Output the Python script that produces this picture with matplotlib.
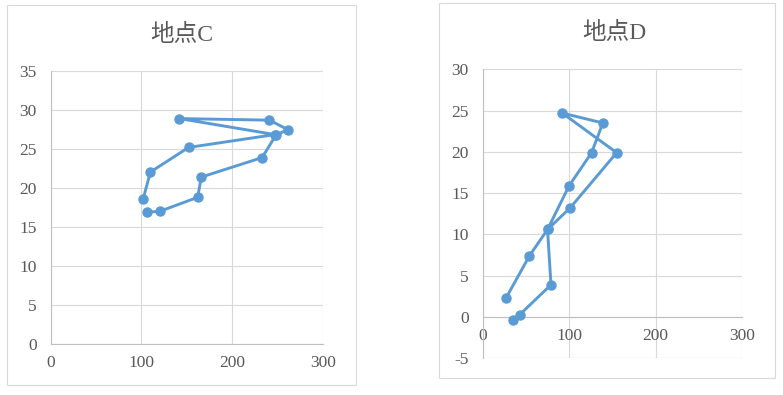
import matplotlib
matplotlib.use("Agg")
import matplotlib.pyplot as plt
from matplotlib.patches import Rectangle

# 地点C
c_x = [102, 110, 152, 247, 142, 241, 261, 248, 233, 166, 162, 120, 106]
c_y = [18.6, 22.05, 25.2, 26.85, 28.9, 28.7, 27.5, 26.75, 23.9, 21.4, 18.8, 17.0, 16.9]

# 地点D
d_x = [27, 54, 75, 101, 155, 92, 139, 126, 100, 75, 79, 43, 35]
d_y = [2.3, 7.4, 10.6, 13.2, 19.9, 24.7, 23.5, 19.9, 15.9, 10.6, 3.9, 0.3, -0.4]

W, H = 783, 395
blue = "#5B9BD5"
txt = "#595959"
grid = "#d9d9d9"
serif = ["Liberation Serif", "Noto Sans CJK JP"]
plt.rcParams["font.family"] = serif
plt.rcParams["axes.unicode_minus"] = False

fig = plt.figure(figsize=(W / 100, H / 100), dpi=100)


def box(x0, y0, x1, y1):
    fig.patches.append(Rectangle((x0 / W, 1 - y1 / H), (x1 - x0) / W, (y1 - y0) / H,
                                 transform=fig.transFigure, fill=False,
                                 edgecolor=grid, lw=0.8))


def make_ax(x0, y0, x1, y1):
    return fig.add_axes([x0 / W, 1 - y1 / H, (x1 - x0) / W, (y1 - y0) / H])


def style(ax, xs, ys, ylim, yticks):
    ax.plot(xs, ys, color=blue, lw=2.1, marker="o", ms=6.5, zorder=3)
    ax.set_xlim(0, 300)
    ax.set_ylim(*ylim)
    ax.set_xticks([0, 100, 200, 300])
    ax.set_yticks(yticks)
    ax.grid(True, color=grid, lw=0.8)
    ax.set_axisbelow(True)
    for s in ["top", "right"]:
        ax.spines[s].set_visible(False)
    for s in ["left", "bottom"]:
        ax.spines[s].set_color("#bfbfbf")
        ax.spines[s].set_linewidth(0.8)
    ax.tick_params(length=0, colors=txt, labelsize=12.5)
    ax.tick_params(axis="y", pad=10)
    ax.tick_params(axis="x", pad=8)


box(7, 5, 356, 385)
box(439, 3, 775, 378)

ax1 = make_ax(50.5, 71, 323, 344)
style(ax1, c_x, c_y, (0, 35), range(0, 36, 5))
fig.text(182 / W, 1 - 35 / H, "地点C", ha="center", va="center",
         fontsize=17, color=txt)

ax2 = make_ax(482.7, 69.3, 742, 358.3)
style(ax2, d_x, d_y, (-5, 30), range(-5, 31, 5))
ax2.spines["bottom"].set_position(("data", 0))
ax2.axhline(-5, color=grid, lw=0.8, zorder=0)
fig.text(614 / W, 1 - 33 / H, "地点D", ha="center", va="center",
         fontsize=17, color=txt)

fig.savefig("out.png", dpi=100, facecolor="white")
